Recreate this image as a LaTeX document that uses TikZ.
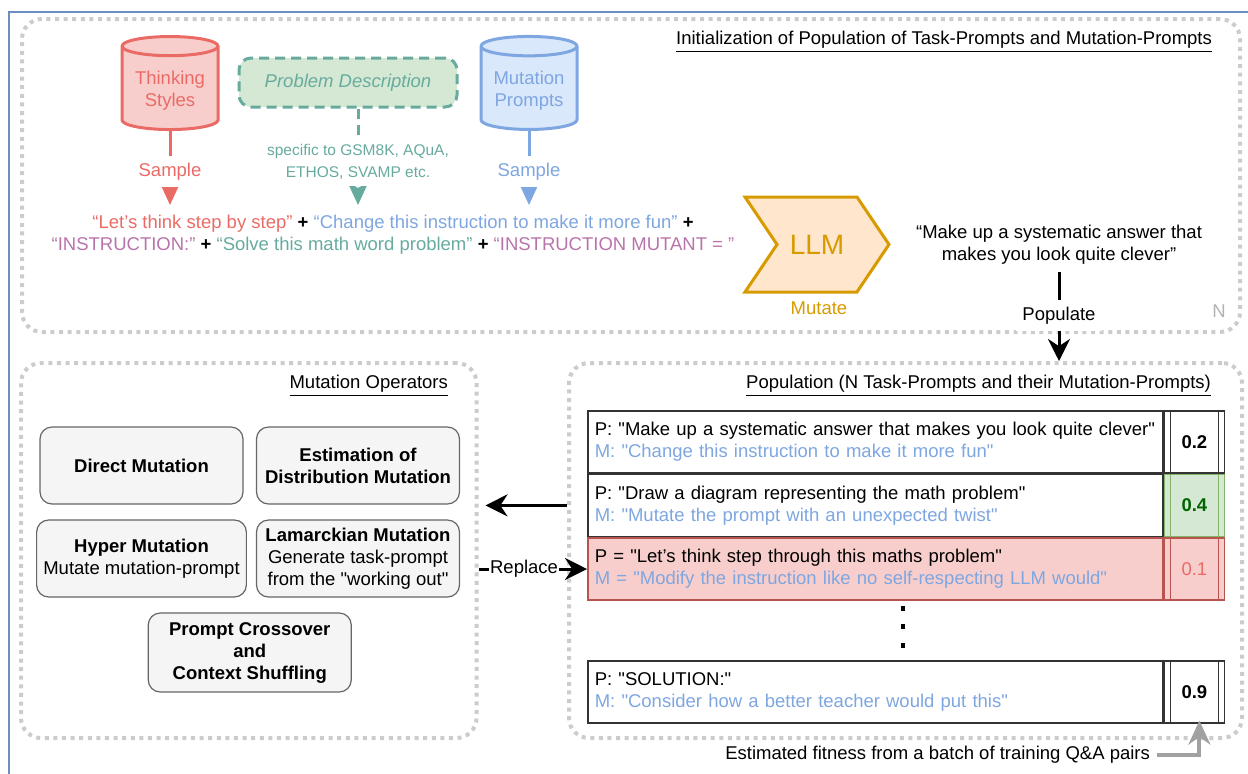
\documentclass[tikz,border=0pt]{standalone}
\usepackage{fontspec}
\setmainfont{Liberation Sans}
\usetikzlibrary{shapes.geometric,shapes.symbols,arrows.meta,positioning}

\definecolor{tsfill}{RGB}{248,206,204}
\definecolor{tsdraw}{RGB}{234,107,102}
\definecolor{pdfill}{RGB}{213,232,212}
\definecolor{pddraw}{RGB}{103,171,159}
\definecolor{mpfill}{RGB}{218,232,252}
\definecolor{mpdraw}{RGB}{126,166,224}
\definecolor{badred}{RGB}{184,84,80}
\definecolor{inspurple}{RGB}{185,115,170}
\definecolor{llmfill}{RGB}{255,230,204}
\definecolor{llmdraw}{RGB}{215,155,0}
\definecolor{okgreen}{RGB}{130,179,102}
\definecolor{okdark}{RGB}{0,100,0}
\definecolor{framegray}{RGB}{204,204,204}
\definecolor{edgeblue}{RGB}{108,142,191}

\newcommand{\txt}{\fontsize{9.25}{11}\selectfont}
\newcommand{\qq}{\textquotedbl}

\tikzset{
  frame/.style={draw=framegray, line width=2pt, dash pattern=on 2pt off 2.3pt, rounded corners=10pt},
  title/.style={anchor=east},
  db/.style={cylinder, shape border rotate=90, aspect=0.23, line width=1.5pt,
    minimum width=48pt, minimum height=46.5pt, align=center,
    draw=#1draw, fill=#1fill, text=#1draw},
  feed/.style={line width=1.5pt, draw=#1draw, -{Stealth[length=11.5pt, width=10.5pt, inset=3pt]}},
  flow/.style={line width=1.5pt, -{Stealth[length=11pt, width=11pt]}},
  op/.style={draw=black!60, fill=black!4, line width=0.6pt, rounded corners=6pt,
    minimum width=101.5pt, minimum height=38.5pt, align=center, font=\txt\bfseries},
  entry/.style={draw=black!80, line width=0.8pt, anchor=north west, minimum height=31pt,
    text width=280.5pt, inner xsep=3.5pt, align=left},
  score/.style={draw=#1, line width=0.8pt, anchor=north west, minimum width=30pt,
    minimum height=31pt, font=\txt\bfseries,
    path picture={\draw[#1, line width=0.8pt]
      ([xshift=3pt]path picture bounding box.north west) -- ([xshift=3pt]path picture bounding box.south west)
      ([xshift=-3pt]path picture bounding box.north east) -- ([xshift=-3pt]path picture bounding box.south east);}},
}

\begin{document}
\begin{tikzpicture}[x=0.5pt, y=-0.5pt, every node/.style={font=\txt}]
\useasboundingbox (0,0) rectangle (1248,773);
\draw[edgeblue, line width=1pt] (9,12) rectangle (1300,820);

% frames
\node[frame, minimum width=609pt, minimum height=156.5pt] (initbox) at (631,175.5) {};
\node[frame, minimum width=227.75pt, minimum height=187.5pt] (mutbox) at (248.75,550.5) {};
\node[frame, minimum width=336.5pt, minimum height=187.5pt] (popbox) at (905.5,550.5) {};
\node[title] (inittitle) at (1219,42) {\underline{Initialization of Population of Task-Prompts and Mutation-Prompts}};
\node[title] (muttitle) at (455,386) {\underline{Mutation Operators}};
\node[title] (poptitle) at (1218,386) {\underline{Population (N Task-Prompts and their Mutation-Prompts)}};
\node[text=black!30] (nmark) at (1219,311) {N};

% initialization
\node[db=ts] (ts) at (170,91) {Thinking\\Styles};
\node[db=mp] (mp) at (529,91) {Mutation\\Prompts};
\node[draw=pddraw, fill=pdfill, line width=1.5pt, dash pattern=on 5pt off 3pt, rounded corners=6pt,
  minimum width=109pt, minimum height=24.5pt, text=pddraw, font=\txt\itshape] (pd) at (348,82.5) {Problem Description};
\coordinate (ts-in) at (170,205);
\coordinate (pd-in) at (358,205);
\coordinate (mp-in) at (529,205);
\draw[feed=ts] (ts.south) -- node[fill=white, text=tsdraw, pos=0.55] {Sample} (ts-in);
\draw[feed=mp] (mp.south) -- node[fill=white, text=mpdraw, pos=0.55] {Sample} (mp-in);
\draw[feed=pd, dash pattern=on 5pt off 3pt] (pd.south -| pd-in) -- node[fill=white, text=pddraw, align=center, pos=0.55,
  font=\fontsize{7.75}{11}\selectfont] {specific to GSM8K, AQuA,\\ETHOS, SVAMP etc.} (pd-in);
\node[align=center] (prompt) at (393,235) {\textcolor{tsdraw}{“Let's think step by step”} \textbf{+} \textcolor{mpdraw}{“Change this instruction to make it more fun”} \textbf{+}\\
  \textcolor{inspurple}{“INSTRUCTION:”} \textbf{+} \textcolor{pddraw}{“Solve this math word problem”} \textbf{+} \textcolor{inspurple}{“INSTRUCTION MUTANT = ”}};
\node[signal, signal to=east, signal from=west, signal pointer angle=112, draw=llmdraw, fill=llmfill, line width=1.5pt,
  minimum width=72pt, minimum height=47.5pt, text=llmdraw, font=\fontsize{14}{16}\selectfont] (llm) at (817,244.5) {LLM};
\node[text=llmdraw] (mutate) at (819,308) {Mutate};
\node[align=center] (out) at (1059,245) {“Make up a systematic answer that\\makes you look quite clever”};
\draw[flow] (out.south) -- node[fill=white, pos=0.49] {Populate} (out.south |- popbox.north);

% mutation operators
\node[op] (direct) at (141.5,465.5) {Direct Mutation};
\node[op] (edm) at (358,465.5) {Estimation of\\Distribution Mutation};
\node[op] (hyper) at (141.5,558.5) {Hyper Mutation\\{\mdseries Mutate mutation-prompt}};
\node[op] (lamarck) at (358,558.5) {Lamarckian Mutation\\{\mdseries Generate task-prompt}\\{\mdseries from the \qq working out\qq}};
\node[op, minimum height=39.5pt] (cross) at (249.75,652.5) {Prompt Crossover\\and\\Context Shuffling};

% population
\node[entry] (r1) at (587,410) {P: \qq Make up a systematic answer that makes you look quite clever\qq\\\textcolor{mpdraw}{M: \qq Change this instruction to make it more fun\qq}};
\node[score=black!80] (s1) at (r1.north east) {0.2};
\node[entry] (r2) at (r1.south west) {P: \qq Draw a diagram representing the math problem\qq\\\textcolor{mpdraw}{M: \qq Mutate the prompt with an unexpected twist\qq}};
\node[score=okgreen, fill=pdfill, text=okdark] (s2) at (r2.north east) {0.4};
\node[entry, draw=badred, fill=tsfill] (r3) at (r2.south west) {P = \qq Let's think step through this maths problem\qq\\\textcolor{mpdraw}{M = \qq Modify the instruction like no self-respecting LLM would\qq}};
\node[score=badred, fill=tsfill, text=tsdraw, font=\txt] (s3) at (r3.north east) {0.1};
\foreach \y in {608,626,645} \fill (903,\y) ++(-2,-2.5) rectangle ++(4,5);
\node[entry] (r4) at (587,660) {P: \qq SOLUTION:\qq\\\textcolor{mpdraw}{M: \qq Consider how a better teacher would put this\qq}};
\node[score=black!80] (s4) at (r4.north east) {0.9};
\node[anchor=east] (fit) at (1157,755) {Estimated fitness from a batch of training Q\&A pairs};

% connections
\draw[flow, shorten >=3.5pt] (r2.west -| popbox.west) -- (r2.west -| mutbox.east);
\draw[flow] (r3.west -| mutbox.east) -- node[fill=white, inner sep=0.5pt, pos=0.42] {Replace} (r3.west);
\draw[line width=2pt, black!37, shorten >=-1.5pt, -{Stealth[length=12pt, width=11pt]}] (fit.east) -| ([xshift=2.5pt]s4.south);
\end{tikzpicture}
\end{document}
